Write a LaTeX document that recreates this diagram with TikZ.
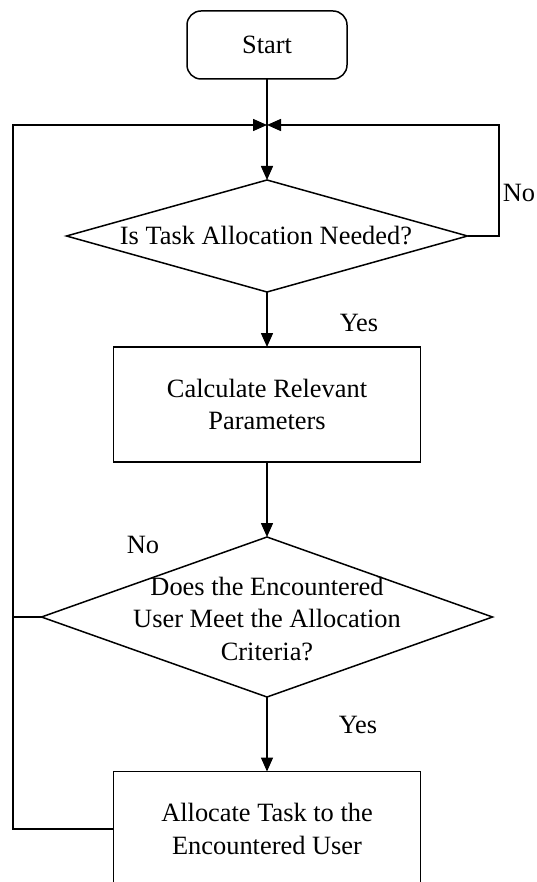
\documentclass[tikz,border=0pt]{standalone}
\usepackage{fontspec}
\setmainfont{Liberation Serif}
\usetikzlibrary{arrows.meta,shapes.geometric}
\begin{document}
\begin{tikzpicture}[x=1pt,y=-1pt,
  every node/.style={font=\fontsize{26.4}{32.5}\selectfont},
  line/.style={line width=1.5pt, black},
  arr/.style={line, -{Triangle[length=14pt,width=12pt]}},
  procbox/.style={draw, line width=1.5pt, rectangle, minimum width=307pt, minimum height=115pt, inner sep=0pt, outer sep=0pt, align=center},
  decbox/.style={draw, line width=1.5pt, diamond, inner sep=0pt, outer sep=0pt},
  lbl/.style={inner sep=0pt}]
\useasboundingbox (0,0) rectangle (537,882);
\clip (0,0) rectangle (537,882);
\fill[white] (0,0) rectangle (537,882);

\node[draw, line width=1.5pt, rounded corners=14pt, minimum width=160pt, minimum height=68pt, inner sep=0pt, outer sep=0pt] (start) at (267,45) {Start};

\coordinate (j) at (267,125);
\coordinate (lx) at (13,125);
\coordinate (rx) at (499,125);

\node[decbox, minimum width=401pt, minimum height=112pt] (d1) at (267,236) {};
\node[lbl] (t1) at (266,236) {Is Task Allocation Needed?};

\node[procbox] (b2) at (267,404.5) {Calculate Relevant\\Parameters};

\node[decbox, minimum width=451pt, minimum height=160pt] (d2) at (267,617) {};
\node[lbl, align=center] (t2) at (267,619) {Does the Encountered\\User Meet the Allocation\\Criteria?};

\node[procbox] (b3) at (267,829) {Allocate Task to the\\Encountered User};

\node[lbl] (no1) at (519,193) {No};
\node[lbl] (yes1) at (359,323) {Yes};
\node[lbl] (no2) at (143,545) {No};
\node[lbl] (yes2) at (358,725) {Yes};

\draw[line] (start.south) -- (j);
\draw[arr] (j) -- (d1.north);
\draw[arr] (d1.east) -- (d1.east -| rx) -- (rx) -- (j);
\draw[arr] (d1.south) -- (b2.north);
\draw[arr] (b2.south) -- (d2.north);
\draw[arr] (d2.south) -- (b3.north);
\draw[arr] (b3.west) -- (b3.west -| lx) -- (lx) -- (j);
\draw[line] (d2.west) -- (d2.west -| lx);
\end{tikzpicture}
\end{document}
